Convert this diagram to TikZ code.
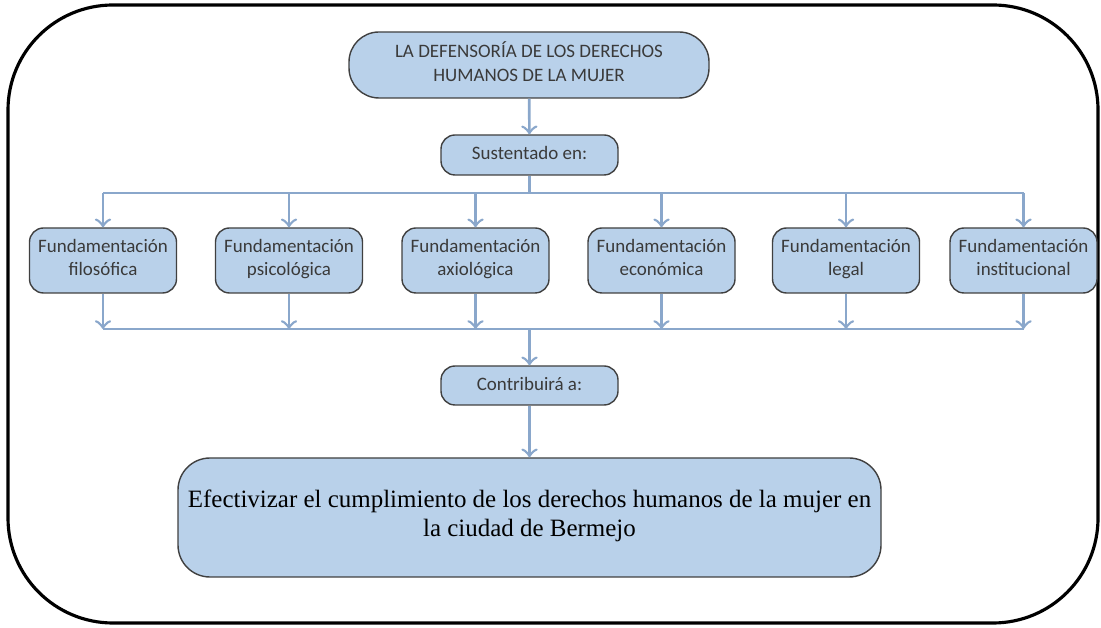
\documentclass[tikz,border=0pt]{standalone}
\usepackage{fontspec}
\setmainfont{Liberation Serif}
\newfontfamily\boxfont{Carlito}
\definecolor{boxblue}{HTML}{B9D1EA}
\definecolor{linkblue}{HTML}{8AA7CB}
\definecolor{boxtext}{HTML}{3A3A3A}
\tikzset{
    block/.style={draw=black!75, line width=0.4pt, fill=boxblue, rectangle,
        rounded corners=0.14cm, align=center, text=boxtext,
        font=\boxfont\fontsize{5.4}{6.6}\selectfont, inner sep=0pt,
        execute at begin node=\strut, execute at end node=\strut},
    link/.style={draw=linkblue, line width=0.75pt}
}
\begin{document}
\begin{tikzpicture}

    \useasboundingbox (0,0) rectangle (11.01,6.27);

    %% Frame
    \draw[line width=0.9pt, rounded corners=1.05cm] (0.08,0.04) rectangle (10.98,6.22);

    % Title and first step
    \node[block, rounded corners=0.3cm, minimum width=3.6cm, minimum height=0.66cm]
        (defensoria) at (5.29,5.62) {LA DEFENSORÍA DE LOS DERECHOS\\HUMANOS DE LA MUJER};
    \node[block, minimum width=1.77cm, minimum height=0.40cm]
        (sustentado) at (5.295,4.72) {Sustentado en:};

    % Foundations
    \node[block, minimum width=1.47cm, minimum height=0.65cm] (f1) at (1.03,3.665) {Fundamentación\\filosófica};
    \node[block, minimum width=1.47cm, minimum height=0.65cm] (f2) at (2.89,3.665) {Fundamentación\\psicológica};
    \node[block, minimum width=1.47cm, minimum height=0.65cm] (f3) at (4.755,3.665) {Fundamentación\\axiológica};
    \node[block, minimum width=1.47cm, minimum height=0.65cm] (f4) at (6.615,3.665) {Fundamentación\\económica};
    \node[block, minimum width=1.47cm, minimum height=0.65cm] (f5) at (8.46,3.665) {Fundamentación\\legal};
    \node[block, minimum width=1.47cm, minimum height=0.65cm] (f6) at (10.235,3.665) {Fundamentación\\institucional};

    % Outcome
    \node[block, minimum width=1.77cm, minimum height=0.39cm]
        (contribuira) at (5.295,2.415) {Contribuirá a:};
    \node[block, rounded corners=0.32cm, minimum width=7.03cm, minimum height=1.19cm, text=black,
        font=\fontsize{7.1}{8.3}\selectfont]
        (efectivizar) at (5.295,1.095) {Efectivizar el cumplimiento de los derechos humanos de la mujer en\\la ciudad de Bermejo};

    % Connectors
    \coordinate (split) at (5.295,4.34);
    \coordinate (join) at (5.295,2.98);
    \draw[link, ->] (defensoria) -- (sustentado);
    \draw[link] (sustentado) -- (split);
    \draw[link] (f1.north |- split) -- (f6.north |- split);
    \draw[link] (f1.south |- join) -- (f6.south |- join);
    \foreach \i in {1,...,6} {
        \draw[link, ->] (f\i.north |- split) -- (f\i.north);
        \draw[link, ->] (f\i.south) -- (f\i.south |- join);
    }
    \draw[link, ->] (join) -- (contribuira);
    \draw[link, ->] (contribuira) -- (efectivizar);

\end{tikzpicture}
\end{document}
